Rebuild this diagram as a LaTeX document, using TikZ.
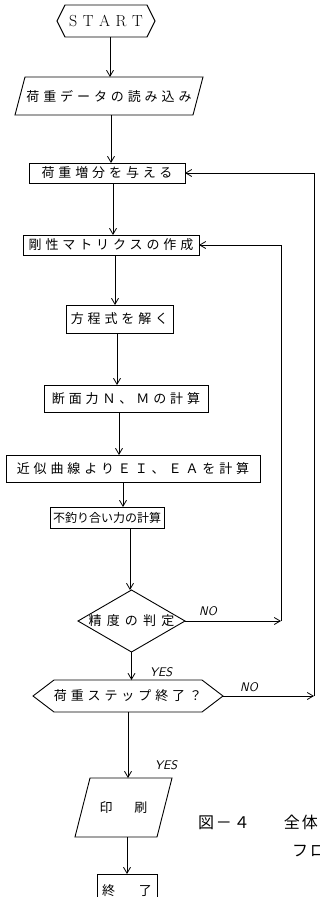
\documentclass[tikz,border=0pt]{standalone}
\usepackage{fontspec}
\usetikzlibrary{arrows.meta}
\newfontfamily\jpf{Noto Sans CJK JP}
\tikzset{
  every node/.style={inner sep=0pt, outer sep=0pt},
  outline/.style={draw, line width=0.9pt, line join=miter},
  jptext/.style={font=\jpf\fontsize{13}{13}\selectfont\addfontfeature{LetterSpace=30}},
  blk/.style={outline, rectangle, jptext},
  ghost/.style={rectangle, jptext},
  arr/.style={line width=0.8pt, -{Straight Barb[length=6pt,width=7pt]}},
  yn/.style={font=\sffamily\itshape\fontsize{12.5}{12.5}\selectfont},
  captext/.style={font=\jpf\fontsize{16}{16}\selectfont\addfontfeature{LetterSpace=12}, anchor=west}
}
\newcommand{\gp}{\hspace{5.5pt}}
\begin{document}
\begin{tikzpicture}[x=1pt,y=-1pt]
\useasboundingbox (0,0) rectangle (320,897);
\fill[white] (0,0) rectangle (320,897);

% START
\node[rectangle, minimum width=98, minimum height=32,
  font=\rmfamily\fontsize{16}{16}\selectfont] (start) at (106,21) {S\gp T\gp A\gp R\gp T};
\draw[outline] ([xshift=8]start.north west) -- ([xshift=-8]start.north east) -- (start.east)
  -- ([xshift=-8]start.south east) -- ([xshift=8]start.south west) -- (start.west) -- cycle;

% data input
\node[ghost, minimum width=188, minimum height=38] (data) at (109,96) {荷重データの読み込み};
\draw[outline] ([xshift=10]data.north west) -- (data.north east) -- ([xshift=-10]data.south east)
  -- (data.south west) -- cycle;

\node[blk, minimum width=156, minimum height=20] (inc) at (107,173) {荷重増分を与える};
\node[blk, minimum width=176, minimum height=20] (stiff) at (111,245) {剛性マトリクスの作成};
\node[blk, minimum width=107, minimum height=28] (solve) at (119.5,319) {方程式を解く};
\node[blk, minimum width=164, minimum height=27] (sect) at (126,398.5) {断面力Ｎ、Ｍの計算};
\node[blk, minimum width=254, minimum height=27] (ei) at (133,468.5) {近似曲線よりＥＩ、ＥＡを計算};
\node[outline, rectangle, minimum width=114, minimum height=21,
  font=\jpf\fontsize{12}{12}\selectfont] (unbal) at (107,517.5) {不釣り合い力の計算};

% decision diamond
\node[rectangle, minimum width=107, minimum height=62,
  font=\jpf\fontsize{13}{13}\selectfont\addfontfeature{LetterSpace=40}] (acc) at (131.5,621) {精度の判定};
\draw[outline] (acc.north) -- (acc.east) -- (acc.south) -- (acc.west) -- cycle;

% step hexagon
\node[ghost, minimum width=190, minimum height=32] (step) at (128,696) {荷重ステップ終了？};
\draw[outline] ([xshift=21]step.north west) -- ([xshift=-21]step.north east) -- (step.east)
  -- ([xshift=-21]step.south east) -- ([xshift=21]step.south west) -- (step.west) -- cycle;

% print
\node[rectangle, minimum width=97, minimum height=59,
  font=\jpf\fontsize{13}{13}\selectfont] (print) at (123.5,807.5) {印\hspace{22pt}刷};
\draw[outline] ([xshift=15]print.north west) -- (print.north east) -- ([xshift=-15]print.south east)
  -- (print.south west) -- cycle;

% end
\node[outline, rectangle, minimum width=60, minimum height=40,
  font=\jpf\fontsize{13}{13}\selectfont] (end) at (127,894) {\raisebox{8pt}{終\hspace{24pt}了}};

% main flow arrows
\draw[arr] ([xshift=4]start.south) -- ([xshift=4]start.south |- data.north);
\draw[arr] ([xshift=2]data.south) -- ([xshift=2]data.south |- inc.north);
\draw[arr] ([xshift=6]inc.south) -- ([xshift=6]inc.south |- stiff.north);
\draw[arr] ([xshift=4]stiff.south) -- ([xshift=4]stiff.south |- solve.north);
\draw[arr] ([xshift=-2.5]solve.south) -- ([xshift=-2.5]solve.south |- sect.north);
\draw[arr] ([xshift=-7]sect.south) -- ([xshift=-7]sect.south |- ei.north);
\draw[arr] ([xshift=-10]ei.south) -- ([xshift=-10]ei.south |- unbal.north);
\draw[arr] ([xshift=23]unbal.south) -- ([xshift=23]unbal.south |- acc.north);
\draw[arr] (acc.south) -- (acc.south |- step.north);
\draw[arr] (step.south) -- (step.south |- print.north);
\draw[arr] ([xshift=3.5]print.south) -- ([xshift=3.5]print.south |- end.north);

% loops
\coordinate (o2) at (314,173);
\coordinate (i2) at (281,245);
\draw[arr] (step.east) -- (step.east -| o2);
\draw[arr] (step.east -| o2) -- (o2) -- (inc.east);
\draw[arr] (acc.east) -- (acc.east -| i2);
\draw[arr] (acc.east -| i2) -- (i2) -- (stiff.east);

% labels
\node[yn] (no1) at (208,611) {NO};
\node[yn] (yes1) at (161,672) {YES};
\node[yn] (no2) at (249,687) {NO};
\node[yn] (yes2) at (166,765) {YES};

% caption
\node[captext] (cap1) at (198,822) {図－４\hspace{34pt}全体};
\node[captext] (cap2) at (292,851) {フロー};
\end{tikzpicture}
\end{document}
